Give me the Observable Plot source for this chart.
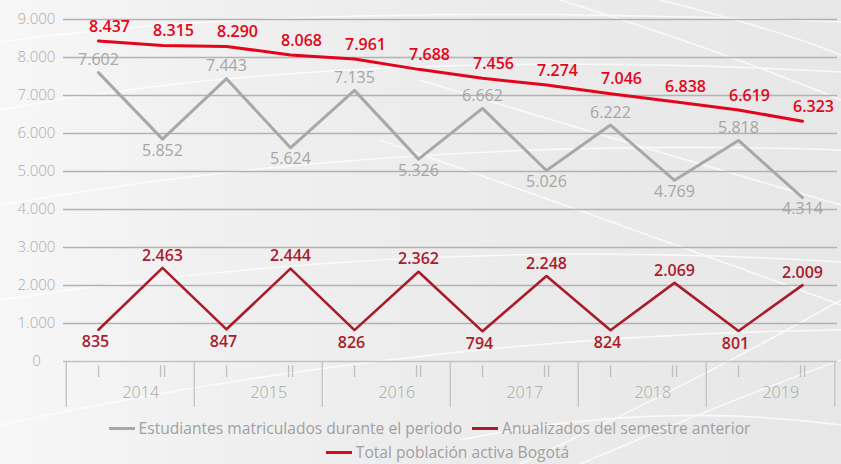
<!DOCTYPE html>
<html><head><meta charset="utf-8">
<script src="https://cdn.jsdelivr.net/npm/d3@7"></script>
<script src="https://cdn.jsdelivr.net/npm/@observablehq/plot@0.6"></script>
<style>
html,body{margin:0;padding:0;}
body{position:relative;width:841px;height:464px;overflow:hidden;font-family:"Open Sans",sans-serif;
background:linear-gradient(90deg,#f7f7f7 0%,#f0f0f0 25%,#ebebeb 60%,#e7e7e7 100%);}
#bg{position:absolute;left:0;top:0;z-index:0;}
#chart,#legend{position:relative;z-index:1;}
#chart svg{display:block;}
.legend{font-size:15.6px;color:#a0a0a0;padding-top:4px;}
.row{display:flex;justify-content:center;align-items:center;height:24px;line-height:20px;white-space:nowrap;}
.item{display:flex;align-items:center;margin:0 5px;}
.sw{display:inline-block;width:26px;height:3px;margin-right:4px;}
</style></head>
<body>
<svg id="bg" width="841" height="464" viewBox="0 0 841 464">
  <g fill="none" stroke="#ffffff" stroke-width="1.6" opacity="0.75">
    <path d="M0,42 Q300,0 841,22"/>
    <path d="M0,110 Q350,45 841,72"/>
    <path d="M0,205 Q400,135 841,150"/>
    <path d="M0,300 Q420,235 841,262"/>
    <path d="M0,425 Q420,335 841,330"/>
    <path d="M560,0 Q720,50 841,100"/>
    <path d="M660,0 Q780,30 841,55"/>
    <path d="M420,80 Q650,150 841,205"/>
    <path d="M380,140 Q650,235 841,305"/>
    <path d="M520,464 Q700,380 841,300"/>
    <path d="M580,464 Q730,400 841,360"/>
    <path d="M460,440 Q650,400 841,425"/>
  </g>
</svg>
<div id="chart"></div>
<div class="legend" id="legend"></div>
<script>
const years = ["2014","2015","2016","2017","2018","2019"];
const semesters = ["I","II"];
const estudiantes = [7602,5852,7443,5624,7135,5326,6662,5026,6222,4769,5818,4314];
const anualizados = [835,2463,847,2444,826,2362,794,2248,824,2069,801,2009];
const totalPoblacion = [8437,8315,8290,8068,7961,7688,7456,7274,7046,6838,6619,6323];
const yTicks = [0,1000,2000,3000,4000,5000,6000,7000,8000,9000];
const seriesNames = ["Estudiantes matriculados durante el periodo","Anualizados del semestre anterior","Total población activa Bogotá"];
const seriesColors = ["#a8a8a8","#a91d2b","#e3051b"];

const fmt = d3.formatLocale({decimal:",",thousands:".",grouping:[3],currency:["$",""]}).format(",d");
const periods = years.flatMap(y => semesters.map(s => `${y}-${s}`));
const rows = periods.map((p,i)=>({period:p, year:years[Math.floor(i/2)], sem:semesters[i%2],
  est:estudiantes[i], anu:anualizados[i], tot:totalPoblacion[i], i}));
const firstSem = rows.filter(d=>d.sem==="I");
const W=841, H=412, mL=63, mR=4, mT=19, mB=51;
const step=(W-mL-mR)/periods.length;
const tableInsetTop = H-mB-mT;

const plot = Plot.plot({
  width:W, height:H, marginLeft:mL, marginRight:mR, marginTop:mT, marginBottom:mB,
  style:{background:"transparent", fontFamily:"'Open Sans', sans-serif"},
  x:{type:"point", domain:periods, padding:0.5, axis:null},
  y:{domain:[0,9000], axis:null},
  marks:[
    Plot.ruleY(yTicks.filter(d=>d>0), {stroke:"#b2b2b2", strokeWidth:1.3}),
    Plot.ruleY([0], {stroke:"#c2c2c2", strokeWidth:1.3}),
    Plot.ruleX(firstSem, {x:"period", dx:-step/2, stroke:"#c2c2c2", strokeWidth:1.3, insetTop:tableInsetTop, insetBottom:-46}),
    Plot.ruleX([periods[periods.length-1]], {dx:step/2, stroke:"#c2c2c2", strokeWidth:1.3, insetTop:tableInsetTop, insetBottom:-46}),
    Plot.text(rows, {x:"period", text:"sem", frameAnchor:"bottom", dy:15, fill:"#ababab", fontSize:16, fontWeight:300}),
    Plot.text(firstSem, {x:"period", text:"year", frameAnchor:"bottom", dx:step/2+10, dy:36, fill:"#a8a8a8", fontSize:16, fontWeight:300, letterSpacing:"0.6px"}),
    Plot.axisY({ticks:yTicks, tickSize:0, tickPadding:27, textAnchor:"middle", tickFormat:fmt, fill:"#ababab", fontSize:15, fontWeight:300, letterSpacing:"0.5px"}),
    Plot.line(rows, {x:"period", y:"est", stroke:seriesColors[0], strokeWidth:3}),
    Plot.line(rows, {x:"period", y:"anu", stroke:seriesColors[1], strokeWidth:2.6}),
    Plot.line(rows, {x:"period", y:"tot", stroke:seriesColors[2], strokeWidth:3}),
    Plot.text(rows.filter(d=>d.sem==="I"), {x:"period", y:"est", text:d=>fmt(d.est), dy:-12.5, fill:"#a6a6a6", fontSize:16, letterSpacing:"0.7px"}),
    Plot.text(rows.filter(d=>d.sem==="II"), {x:"period", y:"est", text:d=>fmt(d.est), dy:11.5, fill:"#a6a6a6", fontSize:16, letterSpacing:"0.7px"}),
    Plot.text(rows.filter(d=>d.sem==="I"), {x:"period", y:"anu", text:d=>fmt(d.anu), dy:12.5, dx:-3, fill:seriesColors[1], fontSize:16, fontWeight:600, letterSpacing:"0.5px"}),
    Plot.text(rows.filter(d=>d.sem==="II"), {x:"period", y:"anu", text:d=>fmt(d.anu), dy:-12.5, fill:seriesColors[1], fontSize:16, fontWeight:600, letterSpacing:"0.5px"}),
    Plot.text(rows, {x:"period", y:"tot", text:d=>fmt(d.tot), dy:-14.5, dx:11, fill:seriesColors[2], fontSize:16, fontWeight:600, letterSpacing:"0.5px"})
  ]
});
document.getElementById("chart").appendChild(plot);

const legend = document.getElementById("legend");
const rowsSpec = [[0,1],[2]];
const pads = ["18px","54px"];
rowsSpec.forEach((idxs,r)=>{
  const row = document.createElement("div");
  row.className="row"; row.style.paddingLeft=pads[r];
  idxs.forEach(i=>{
    const it=document.createElement("span"); it.className="item";
    const sw=document.createElement("span"); sw.className="sw"; sw.style.background=seriesColors[i];
    it.appendChild(sw); it.appendChild(document.createTextNode(seriesNames[i]));
    row.appendChild(it);
  });
  legend.appendChild(row);
});
</script>
</body></html>
